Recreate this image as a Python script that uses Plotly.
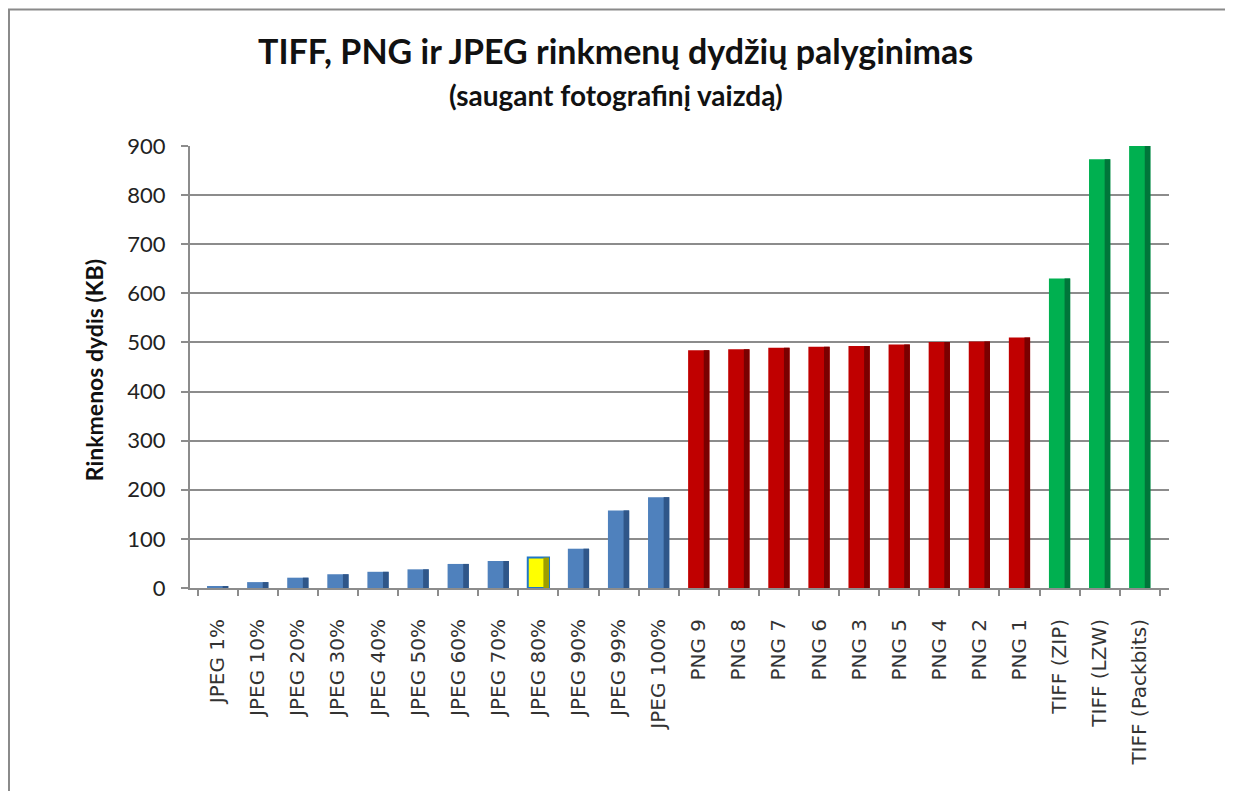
"""File-size comparison of TIFF, PNG and JPEG (photo image) as a pseudo-3D bar chart."""
import plotly.graph_objects as go

# categories and sizes in KB
jpeg_labels = ["JPEG 1%", "JPEG 10%", "JPEG 20%", "JPEG 30%", "JPEG 40%", "JPEG 50%",
               "JPEG 60%", "JPEG 70%", "JPEG 80%", "JPEG 90%", "JPEG 99%", "JPEG 100%"]
jpeg_kb = [4, 12, 21, 28, 33, 38, 49, 55, 62, 80, 158, 185]

png_labels = ["PNG 9", "PNG 8", "PNG 7", "PNG 6", "PNG 3", "PNG 5", "PNG 4", "PNG 2", "PNG 1"]
png_kb = [484, 486, 489, 491, 493, 496, 501, 502, 510]

tiff_labels = ["TIFF (ZIP)", "TIFF (LZW)", "TIFF (Packbits)"]
tiff_kb = [630, 873, 900]

highlight = "JPEG 80%"
y_ticks = [0, 100, 200, 300, 400, 500, 600, 700, 800, 900]

# Excel-ish palette: face colour + darker side
_BLUE, _BLUE_DK = "#4F81BD", "#2F5689"
_RED, _RED_DK = "#C00000", "#7A0000"
_GREEN, _GREEN_DK = "#00B050", "#00753A"
_YELLOW, _YELLOW_DK = "#FFFF00", "#9E9E00"
_GRID = "#8C8C8C"
_FONT = "Lato, 'Open Sans', sans-serif"

labels = jpeg_labels + png_labels + tiff_labels
values = jpeg_kb + png_kb + tiff_kb
face = [_BLUE] * len(jpeg_kb) + [_RED] * len(png_kb) + [_GREEN] * len(tiff_kb)
side = [_BLUE_DK] * len(jpeg_kb) + [_RED_DK] * len(png_kb) + [_GREEN_DK] * len(tiff_kb)
edge_w = [0] * len(labels)
for i, lab in enumerate(labels):
    if lab == highlight:
        face[i], side[i], edge_w[i] = _YELLOW, _YELLOW_DK, 2

fig = go.Figure()
# front face of each bar
fig.add_bar(x=labels, y=values, width=0.53, offset=-0.265,
            marker=dict(color=face, line=dict(color="#1F77C8", width=edge_w)),
            showlegend=False, hoverinfo="x+y")
# dark right-hand side, gives the 3D look
fig.add_bar(x=labels, y=values, width=0.14, offset=0.125,
            marker=dict(color=side, line=dict(width=0)),
            showlegend=False, hoverinfo="skip")

# page body keeps its 8px margin, so the figure is 8px smaller each way
fig.update_layout(
    barmode="overlay",
    width=1225, height=783,
    margin=dict(l=182, r=64, t=138, b=203),
    paper_bgcolor="#FFFFFF", plot_bgcolor="#FFFFFF",
    font=dict(family=_FONT, color="#222222"),
    xaxis=dict(
        type="category", categoryorder="array", categoryarray=labels,
        range=[-0.69, len(labels) - 0.27], automargin=False,
        tickangle=-90, tickson="boundaries", ticks="outside", ticklen=6,
        tickcolor=_GRID, tickwidth=2, ticklabelstandoff=21,
        tickfont=dict(family="DejaVu Sans", size=20, color="#333333"),
        showline=True, linecolor=_GRID, linewidth=2,
        showgrid=False, zeroline=False,
    ),
    yaxis=dict(
        range=[0, 900], tickvals=y_ticks, ticks="outside", ticklen=7,
        automargin=False,
        tickcolor=_GRID, tickwidth=2, ticklabelstandoff=11,
        tickfont=dict(family=_FONT, size=22, color="#222222"),
        showgrid=True, gridcolor=_GRID, gridwidth=2,
        showline=True, linecolor=_GRID, linewidth=2,
        zeroline=False,
    ),
    annotations=[
        dict(text="<b>TIFF, PNG ir JPEG rinkmenų dydžių palyginimas</b>",
             xref="paper", yref="paper", x=0.435, y=1.217,
             xanchor="center", yanchor="middle", showarrow=False,
             font=dict(family=_FONT, size=34, color="#111111")),
        dict(text="<b>(saugant fotografinį vaizdą)</b>",
             xref="paper", yref="paper", x=0.435, y=1.115,
             xanchor="center", yanchor="middle", showarrow=False,
             font=dict(family=_FONT, size=28, color="#111111")),
        dict(text="<b>Rinkmenos dydis (KB)</b>", textangle=-90,
             xref="paper", yref="paper", x=-0.098, y=0.493,
             xanchor="center", yanchor="middle", showarrow=False,
             font=dict(family=_FONT, size=23, color="#111111")),
    ],
    shapes=[dict(
        type="rect", xref="paper", yref="paper",
        x0=-0.1849, x1=1.0593, y0=-0.47, y1=1.309,
        line=dict(color="#8A8A8A", width=2), fillcolor="rgba(0,0,0,0)",
        layer="below",
    )],
)

fig.write_html("out.html")
